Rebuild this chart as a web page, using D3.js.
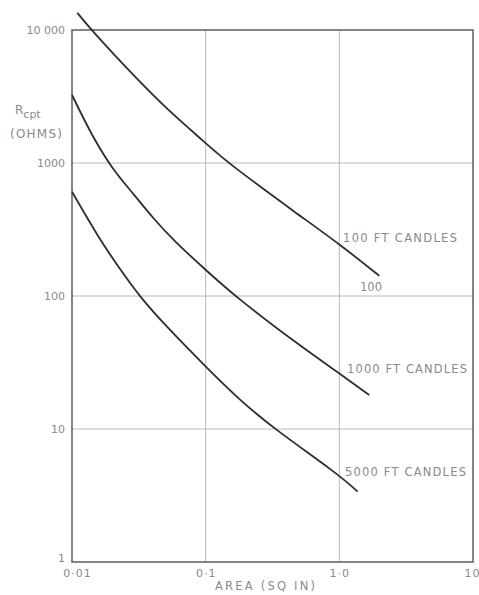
<!DOCTYPE html>
<html><head><meta charset="utf-8">
<script src="https://cdn.jsdelivr.net/npm/d3@7"></script>
<style>body{margin:0;background:#fff}svg{display:block}text{font-family:"DejaVu Sans",sans-serif;fill:#8a8a8a}</style>
</head><body>
<script>
const xTicks = [0.01, 0.1, 1, 10];
const xTickLabels = ["0·01", "0·1", "1·0", "10"];
const yTicks = [1, 10, 100, 1000, 10000];
const yTickLabels = ["1", "10", "100", "1000", "10 000"];
const seriesNames = ["100 FT CANDLES", "1000 FT CANDLES", "5000 FT CANDLES"];
const area100 = [0.01096, 0.01393, 0.0294, 0.052, 0.1, 0.1466, 0.502, 1.0, 1.99];
const r100 = [13490, 10000, 4456, 2502, 1414, 1000, 404, 246, 142];
const area1000 = [0.01, 0.01425, 0.0203, 0.0286, 0.0405, 0.057, 0.1, 0.1644, 0.502, 1.0, 1.675];
const r1000 = [3245, 1567, 885, 592, 384, 264, 157, 100, 42.5, 26.2, 18.0];
const area5000 = [0.01, 0.01618, 0.0228, 0.0318, 0.0509, 0.1, 0.1795, 0.327, 1.0, 1.37];
const r5000 = [608, 264, 160, 100, 58.8, 29.4, 16.5, 10, 4.51, 3.38];

const W = 479, H = 595;
const svg = d3.select("body").append("svg").attr("width", W).attr("height", H);
const x = d3.scaleLog().domain([0.01, 10]).range([72, 473]);
const y = d3.scaleLog().domain([1, 10000]).range([562, 30]);

// grid
svg.append("g").selectAll("line").data([0.1, 1]).join("line")
  .attr("x1", d => x(d)).attr("x2", d => x(d)).attr("y1", y(10000)).attr("y2", y(1))
  .attr("stroke", "#b8b8b8").attr("stroke-width", 1);
svg.append("g").selectAll("line").data([10, 100, 1000]).join("line")
  .attr("x1", x(0.01)).attr("x2", x(10)).attr("y1", d => y(d)).attr("y2", d => y(d))
  .attr("stroke", "#b8b8b8").attr("stroke-width", 1);
// frame
svg.append("rect").attr("x", x(0.01)).attr("y", y(10000))
  .attr("width", x(10) - x(0.01)).attr("height", y(1) - y(10000))
  .attr("fill", "none").attr("stroke", "#666").attr("stroke-width", 1.6);

// axes
const xAxis = d3.axisBottom(x).tickValues(xTicks).tickSize(0).tickPadding(7)
  .tickFormat((d, i) => xTickLabels[i]);
const gx = svg.append("g").attr("transform", `translate(0,${y(1)})`).call(xAxis);
gx.select(".domain").remove();
gx.selectAll("text").style("font-size", "11px").style("letter-spacing", "1px").attr("fill", "#8a8a8a")
  .attr("dx", (d, i) => i === 0 ? 5 : (i === 3 ? -1 : 0));

const yAxis = d3.axisLeft(y).tickValues(yTicks).tickSize(0).tickPadding(7)
  .tickFormat((d, i) => yTickLabels[i]);
const gy = svg.append("g").attr("transform", `translate(${x(0.01)},0)`).call(yAxis);
gy.select(".domain").remove();
gy.selectAll("text").style("font-size", "11px").attr("fill", "#8a8a8a")
  .attr("dy", (d) => d === 1 ? "-0.05em" : "0.32em");

// titles
const t = svg.append("text").attr("x", 15).attr("y", 114).style("font-size", "12px");
t.append("tspan").text("R");
t.append("tspan").attr("dy", 4).style("font-size", "11px").text("cpt");
svg.append("text").attr("x", 10).attr("y", 138).style("font-size", "12px")
  .attr("textLength", 52).attr("lengthAdjust", "spacing").text("(OHMS)");
svg.append("text").attr("x", 215).attr("y", 590)
  .style("font-size", "11.5px").attr("textLength", 100).attr("lengthAdjust", "spacing").text("AREA (SQ IN)");

// curves
const line = d3.line().x(d => x(d[0])).y(d => y(d[1])).curve(d3.curveBasis);
const series = [[area100, r100], [area1000, r1000], [area5000, r5000]];
series.forEach(([a, r]) => {
  svg.append("path").datum(a.map((v, i) => [v, r[i]])).attr("d", line)
    .attr("fill", "none").attr("stroke", "#2e2e2e").attr("stroke-width", 1.8);
});

// labels
const lab = [[343, 242, 114], [347, 373, 120], [345, 476, 121]];
seriesNames.forEach((n, i) => {
  svg.append("text").attr("x", lab[i][0]).attr("y", lab[i][1])
    .style("font-size", "11.5px").attr("textLength", lab[i][2]).attr("lengthAdjust", "spacing").text(n);
});
svg.append("text").attr("x", 360).attr("y", 291).style("font-size", "11.5px")
  .attr("textLength", 22).attr("lengthAdjust", "spacing").text("100");
</script>
</body></html>
